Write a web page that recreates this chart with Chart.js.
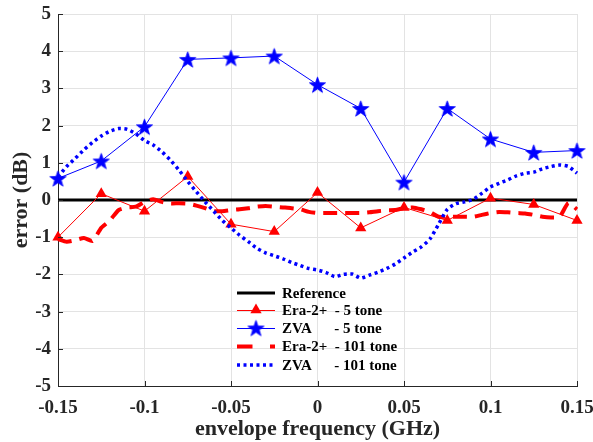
<!DOCTYPE html>
<html>
<head>
<meta charset="utf-8">
<title>Envelope error</title>
<script src="https://cdn.jsdelivr.net/npm/chart.js@4.4.1/dist/chart.umd.min.js"></script>
<style>
  html, body { margin: 0; padding: 0; background: #fff; }
  #wrap { width: 593px; height: 442px; position: relative; }
</style>
</head>
<body>
<div id="wrap"><canvas id="errChart"></canvas></div>
<script>
// 5-tone measurements (GHz, dB)
const freq5 = [-0.15, -0.125, -0.1, -0.075, -0.05, -0.025, 0, 0.025, 0.05, 0.075, 0.1, 0.125, 0.15];
const era5 = [-1.0, 0.17, -0.3, 0.63, -0.65, -0.85, 0.2, -0.75, -0.2, -0.55, 0.05, -0.12, -0.55];
const zva5 = [0.58, 1.05, 1.97, 3.78, 3.82, 3.87, 3.1, 2.46, 0.48, 2.46, 1.64, 1.28, 1.33];

// 101-tone measurements, read every 0.005 GHz
const freq101 = Array.from({ length: 61 }, (_, i) => Math.round((-0.15 + i * 0.005) * 1000) / 1000);
const era101 = [
  -1.05, -1.12, -1.08, -1.02, -1.1, -0.75, -0.55, -0.27, -0.2, -0.18,
  -0.05, 0.02, -0.05, -0.09, -0.09, -0.1, -0.15, -0.22, -0.3, -0.3,
  -0.27, -0.25, -0.22, -0.18, -0.16, -0.18, -0.2, -0.22, -0.25, -0.32,
  -0.35, -0.35, -0.35, -0.35, -0.35, -0.35, -0.33, -0.3, -0.28, -0.27,
  -0.22, -0.2, -0.25, -0.32, -0.45, -0.45, -0.45, -0.45, -0.45, -0.4,
  -0.35, -0.32, -0.33, -0.35, -0.36, -0.4, -0.45, -0.47, -0.45, -0.08,
  -0.25
];
const zva101 = [
  0.62, 0.9, 1.12, 1.35, 1.55, 1.72, 1.85, 1.92, 1.9, 1.78,
  1.6, 1.48, 1.3, 1.07, 0.8, 0.5, 0.22, -0.05, -0.3, -0.55,
  -0.75, -0.95, -1.12, -1.3, -1.42, -1.5, -1.58, -1.68, -1.76, -1.84,
  -1.88, -1.95, -2.06, -2.0, -1.99, -2.1, -2.02, -1.94, -1.84, -1.72,
  -1.56, -1.4, -1.26, -1.05, -0.65, -0.25, -0.1, -0.05, 0.02, 0.18,
  0.35, 0.45, 0.54, 0.65, 0.72, 0.75, 0.84, 0.9, 0.94, 0.9,
  0.72
];

const xTicks = [-0.15, -0.1, -0.05, 0, 0.05, 0.1, 0.15];
const yTicks = [-5, -4, -3, -2, -1, 0, 1, 2, 3, 4, 5];

const legendLabels = [
  'Reference',
  'Era-2+  - 5 tone',
  'ZVA      - 5 tone',
  'Era-2+  - 101 tone',
  'ZVA      - 101 tone'
];

const SERIF = "'Liberation Serif', 'Times New Roman', serif";
const RED = '#ff0000';
const BLUE = '#0000ff';
const AXIS = '#262626';
const GRID = '#e3e3e3';
const DASH101 = [14, 8];
const DOT101 = [3, 3.5];

function pairs(xs, ys) {
  return xs.map((x, i) => ({ x: x, y: ys[i] }));
}

function starPath(ctx, cx, cy, r) {
  const inner = r * 0.4;
  ctx.beginPath();
  for (let i = 0; i < 10; i++) {
    const rad = i % 2 === 0 ? r : inner;
    const a = -Math.PI / 2 + i * Math.PI / 5;
    const px = cx + rad * Math.cos(a);
    const py = cy + rad * Math.sin(a);
    if (i === 0) ctx.moveTo(px, py); else ctx.lineTo(px, py);
  }
  ctx.closePath();
}

// filled pentagram used as the ZVA marker
function makeStar(r) {
  const size = Math.ceil(2 * r + 2);
  const c = document.createElement('canvas');
  c.width = size;
  c.height = size;
  const g = c.getContext('2d');
  starPath(g, size / 2, size / 2 + r * 0.1, r);
  g.fillStyle = BLUE;
  g.fill();
  g.strokeStyle = BLUE;
  g.lineWidth = 0.8;
  g.stroke();
  return c;
}
const starImg = makeStar(8.5);

function drawTriangle(ctx, cx, cy, r) {
  ctx.beginPath();
  for (let i = 0; i < 3; i++) {
    const a = -Math.PI / 2 + i * 2 * Math.PI / 3;
    const px = cx + r * Math.cos(a);
    const py = cy + r * Math.sin(a);
    if (i === 0) ctx.moveTo(px, py); else ctx.lineTo(px, py);
  }
  ctx.closePath();
  ctx.fillStyle = RED;
  ctx.fill();
}

// legend sits inside the plot, no frame
const innerLegend = {
  id: 'innerLegend',
  afterDraw(chart) {
    const ctx = chart.ctx;
    const x0 = 237, x1 = 275, tx = 282;
    const rows = [293, 310.5, 328.5, 346.5, 365];
    ctx.save();
    ctx.font = 'bold 15px ' + SERIF;
    ctx.textBaseline = 'middle';
    ctx.fillStyle = '#000';
    rows.forEach((y, i) => {
      ctx.save();
      ctx.beginPath();
      ctx.moveTo(x0, y);
      ctx.lineTo(x1, y);
      if (i === 0) { ctx.strokeStyle = '#000'; ctx.lineWidth = 3; }
      if (i === 1) { ctx.strokeStyle = RED; ctx.lineWidth = 1; }
      if (i === 2) { ctx.strokeStyle = BLUE; ctx.lineWidth = 1; }
      if (i === 3) { ctx.strokeStyle = RED; ctx.lineWidth = 4; ctx.setLineDash([15.5, 17.5]); }
      if (i === 4) { ctx.strokeStyle = BLUE; ctx.lineWidth = 3.5; ctx.setLineDash(DOT101); }
      ctx.stroke();
      ctx.restore();
      const mid = (x0 + x1) / 2;
      if (i === 1) drawTriangle(ctx, mid, y - 0.5, 6.5);
      if (i === 2) ctx.drawImage(starImg, mid - starImg.width / 2, y - starImg.height / 2 - 0.5);
      ctx.fillStyle = '#000';
      ctx.fillText(legendLabels[i], tx, y + 1);
    });
    ctx.restore();
  }
};

// short tick marks pointing into the plot
const innerTicks = {
  id: 'innerTicks',
  afterDatasetsDraw(chart) {
    const { ctx, chartArea: a, scales } = chart;
    ctx.save();
    ctx.strokeStyle = AXIS;
    ctx.lineWidth = 1;
    ctx.beginPath();
    yTicks.forEach(v => {
      const y = Math.round(scales.y.getPixelForValue(v)) + 0.5;
      ctx.moveTo(a.left, y);
      ctx.lineTo(a.left + 5, y);
    });
    xTicks.forEach(v => {
      const x = Math.round(scales.x.getPixelForValue(v)) + 0.5;
      ctx.moveTo(x, a.bottom);
      ctx.lineTo(x, a.bottom - 5);
    });
    ctx.stroke();
    ctx.restore();
  }
};

const ctx = document.getElementById('errChart');
new Chart(ctx, {
  type: 'line',
  data: {
    datasets: [
      {
        label: legendLabels[0],
        data: pairs([-0.15, 0.15], [0, 0]),
        borderColor: '#000',
        borderWidth: 3,
        pointRadius: 0,
        order: 5
      },
      {
        label: legendLabels[1],
        data: pairs(freq5, era5),
        borderColor: RED,
        backgroundColor: RED,
        borderWidth: 1,
        pointStyle: 'triangle',
        pointRadius: 6.5,
        pointBorderWidth: 0,
        order: 4
      },
      {
        label: legendLabels[2],
        data: pairs(freq5, zva5),
        borderColor: BLUE,
        backgroundColor: BLUE,
        borderWidth: 1,
        pointStyle: starImg,
        order: 3
      },
      {
        label: legendLabels[3],
        data: pairs(freq101, era101),
        borderColor: RED,
        borderWidth: 4,
        borderDash: DASH101,
        pointRadius: 0,
        tension: 0.2,
        order: 2
      },
      {
        label: legendLabels[4],
        data: pairs(freq101, zva101),
        borderColor: BLUE,
        borderWidth: 3.5,
        borderDash: DOT101,
        pointRadius: 0,
        tension: 0.2,
        order: 1
      }
    ]
  },
  options: {
    responsive: true,
    maintainAspectRatio: false,
    animation: false,
    clip: false,
    layout: { padding: { top: 14, right: 16, left: 0, bottom: 0 } },
    plugins: {
      legend: { display: false },
      tooltip: { enabled: false }
    },
    scales: {
      x: {
        type: 'linear',
        min: -0.15,
        max: 0.15,
        afterBuildTicks: s => { s.ticks = xTicks.map(v => ({ value: v })); },
        afterFit: s => { s.height = 56; s.paddingLeft = 0; s.paddingRight = 0; },
        grid: { color: GRID, drawTicks: false },
        border: { color: AXIS, width: 1 },
        ticks: {
          padding: 11,
          color: AXIS,
          font: { family: SERIF, size: 19, weight: 'bold' },
          callback: v => String(Number(v.toFixed(2)))
        },
        title: {
          display: true,
          text: 'envelope frequency (GHz)',
          color: AXIS,
          font: { family: SERIF, size: 22, weight: 'bold' },
          padding: { top: 0, bottom: -1 }
        }
      },
      y: {
        min: -5,
        max: 5,
        afterBuildTicks: s => { s.ticks = yTicks.map(v => ({ value: v })); },
        afterFit: s => { s.width = 58; s.paddingTop = 0; s.paddingBottom = 0; },
        grid: { color: GRID, drawTicks: false },
        border: { color: AXIS, width: 1 },
        ticks: {
          padding: 7,
          color: AXIS,
          font: { family: SERIF, size: 19, weight: 'bold' }
        },
        title: {
          display: true,
          text: 'error (dB)',
          color: AXIS,
          font: { family: SERIF, size: 22, weight: 'bold' },
          padding: { top: 8, bottom: 0 }
        }
      }
    }
  },
  plugins: [innerTicks, innerLegend]
});
</script>
</body>
</html>
